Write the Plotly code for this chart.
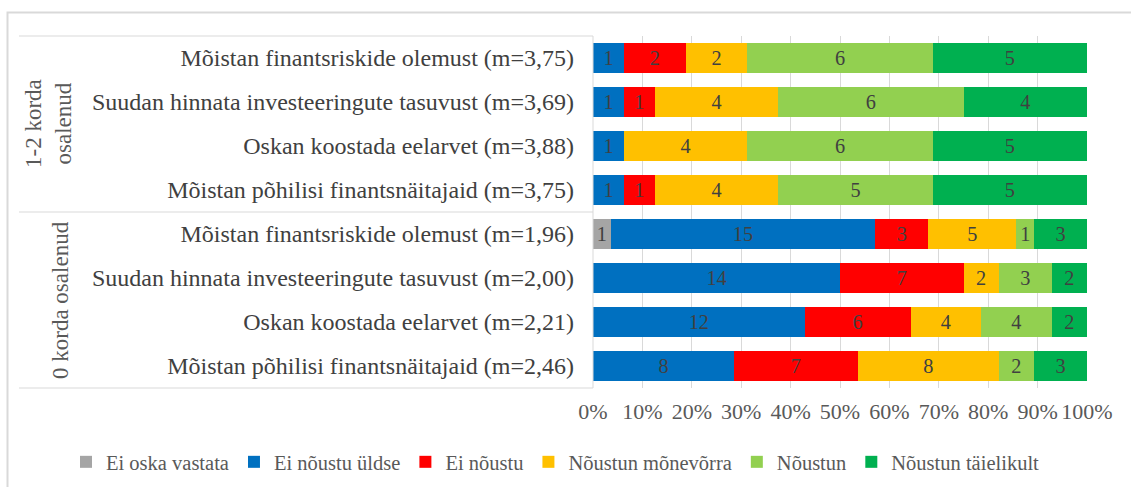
import plotly.graph_objects as go

groups = ["1-2 korda<br>osalenud", "0 korda osalenud"]
items = [
    "Mõistan finantsriskide olemust (m=3,75)",
    "Suudan hinnata investeeringute tasuvust (m=3,69)",
    "Oskan koostada eelarvet (m=3,88)",
    "Mõistan põhilisi finantsnäitajaid (m=3,75)",
    "Mõistan finantsriskide olemust (m=1,96)",
    "Suudan hinnata investeeringute tasuvust (m=2,00)",
    "Oskan koostada eelarvet (m=2,21)",
    "Mõistan põhilisi finantsnäitajaid (m=2,46)",
]
row_ids = ["r%d" % i for i in range(len(items))]

series = ["Ei oska vastata", "Ei nõustu üldse", "Ei nõustu",
          "Nõustun mõnevõrra", "Nõustun", "Nõustun täielikult"]
colors = ["#A5A5A5", "#0070C0", "#FF0000", "#FFC000", "#92D050", "#00B050"]

ei_oska = [0, 0, 0, 0, 1, 0, 0, 0]
ei_noustu_uldse = [1, 1, 1, 1, 15, 14, 12, 8]
ei_noustu = [2, 1, 0, 1, 3, 7, 6, 7]
noustun_monevorra = [2, 4, 4, 4, 5, 2, 4, 8]
noustun = [6, 6, 6, 5, 1, 3, 4, 2]
noustun_taielikult = [5, 4, 5, 5, 3, 2, 2, 3]
values = [ei_oska, ei_noustu_uldse, ei_noustu, noustun_monevorra, noustun, noustun_taielikult]

x_ticks = [0, 10, 20, 30, 40, 50, 60, 70, 80, 90, 100]
x_ticktext = ["%d%%" % v for v in x_ticks]

FONT = "Liberation Serif"
fig = go.Figure()
for name, col, vals in zip(series, colors, values):
    fig.add_trace(go.Bar(
        y=row_ids, x=vals, name=name, orientation="h",
        marker=dict(color=col, line=dict(width=0)),
        text=[str(v) if v else "" for v in vals],
        textposition="inside", insidetextanchor="middle", textangle=0,
        textfont=dict(family=FONT, size=22, color="#404040"),
        hoverinfo="skip",
    ))

L, R, T, B = 593, 44, 36, 99
W, H = 1131, 487
pw, ph = W - L - R, H - T - B

def px_x(px):
    return (px - L) / pw

def px_y(py):
    return (H - B - py) / ph

shapes = []
line_col = "#D9D9D9"
# outer border
shapes.append(dict(type="rect", xref="paper", yref="paper",
                   x0=px_x(7.5), x1=px_x(1140), y0=px_y(12.5), y1=px_y(495),
                   line=dict(color="#D9D9D9", width=2)))
# category-axis group lines
for yy in [1.0, 0.5, 0.0]:
    shapes.append(dict(type="line", xref="paper", yref="paper",
                       x0=px_x(19), x1=0, y0=yy, y1=yy,
                       line=dict(color=line_col, width=1)))
shapes.append(dict(type="line", xref="paper", yref="paper",
                   x0=0, x1=0, y0=0, y1=1, line=dict(color=line_col, width=1)))

annotations = [
    dict(text=groups[0], xref="paper", yref="paper", x=px_x(48), y=0.75,
         xanchor="center", yanchor="middle",
         textangle=-90, showarrow=False, font=dict(family=FONT, size=23, color="#595959")),
    dict(text=groups[1], xref="paper", yref="paper", x=px_x(60), y=0.25,
         xanchor="center", yanchor="middle",
         textangle=-90, showarrow=False, font=dict(family=FONT, size=23, color="#595959")),
]

fig.update_layout(
    width=W, height=H,
    barmode="stack", barnorm="percent", bargap=0.34,
    margin=dict(l=L, r=R, t=T, b=B, pad=0, autoexpand=False),
    paper_bgcolor="white", plot_bgcolor="white",
    font=dict(family=FONT, size=21, color="#404040"),
    xaxis=dict(range=[0, 100], tickvals=x_ticks, ticktext=x_ticktext,
               showgrid=True, gridcolor=line_col, gridwidth=1, zeroline=False,
               showline=False, ticks="", ticklabelstandoff=8,
               tickfont=dict(family=FONT, size=22, color="#595959"),
               fixedrange=True),
    yaxis=dict(type="category", categoryorder="array", categoryarray=row_ids,
               autorange="reversed", tickmode="array", tickvals=row_ids, ticktext=items,
               ticks="", ticklabelstandoff=18, showgrid=False, showline=False,
               tickfont=dict(family=FONT, size=24, color="#404040"), fixedrange=True),
    legend=dict(orientation="h", x=px_x(66), xanchor="left",
                y=px_y(462), yanchor="middle", traceorder="normal",
                font=dict(family=FONT, size=20.5, color="#595959"),
                itemwidth=30, tracegroupgap=0),
    shapes=shapes, annotations=annotations,
)

fig.write_html("out.html", config={"displayModeBar": False},
               post_script="document.body.style.margin='0px';")
